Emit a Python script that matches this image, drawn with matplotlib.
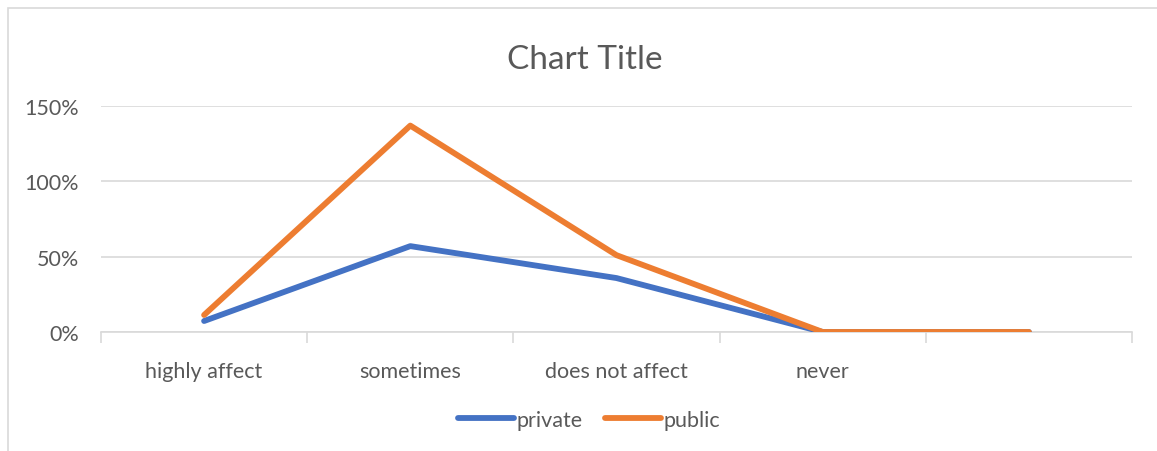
import matplotlib.pyplot as plt
from matplotlib.patches import Rectangle
from matplotlib.ticker import FixedLocator, PercentFormatter

plt.rcParams["font.family"] = ["Lato", "DejaVu Sans"]

categories = ["highly affect", "sometimes", "does not affect", "never", ""]
private = [0.073, 0.57, 0.358, 0.0, 0.0]
public = [0.113, 1.37, 0.51, 0.0, 0.0]

text_color = "#595959"
grid_color = "#d9d9d9"

fig = plt.figure(figsize=(11.57, 4.52), dpi=100)
ax = fig.add_axes([101 / 1157, 119 / 452, 1031 / 1157, 226 / 452])

x = range(len(categories))
ax.plot(x, private, color="#4472C4", lw=4.2, solid_capstyle="round",
        solid_joinstyle="round", label="private", zorder=3)
ax.plot(x, public, color="#ED7D31", lw=4.2, solid_capstyle="round",
        solid_joinstyle="round", label="public", zorder=4)

ax.set_xlim(-0.5, len(categories) - 0.5)
ax.set_ylim(0, 1.5)
ax.set_yticks([0, 0.5, 1.0, 1.5])
ax.yaxis.set_major_formatter(PercentFormatter(1.0, decimals=0))
ax.grid(axis="y", color=grid_color, lw=1.2)
ax.set_axisbelow(True)

ax.set_xticks(list(x))
ax.set_xticklabels(categories)
ax.xaxis.set_minor_locator(FixedLocator([i - 0.5 for i in range(len(categories) + 1)]))
ax.tick_params(axis="x", which="major", length=0, pad=21, labelsize=15.5, labelcolor=text_color)
ax.tick_params(axis="x", which="minor", length=8, color=grid_color, width=1.2)
ax.tick_params(axis="y", length=0, pad=16, labelsize=15.5, labelcolor=text_color)

for side in ["top", "right", "left"]:
    ax.spines[side].set_visible(False)
ax.spines["bottom"].set_color(grid_color)
ax.spines["bottom"].set_linewidth(1.2)

fig.text(585 / 1157, 1 - 60 / 452, "Chart Title", ha="center", va="center",
         fontsize=24, color=text_color)

fig.legend(loc="center", bbox_to_anchor=(589 / 1157, 1 - 421 / 452), ncol=2,
           frameon=False, fontsize=15.5, labelcolor=text_color,
           handlelength=2.6, handletextpad=0.1, columnspacing=1.05)

fig.patches.append(Rectangle((8 / 1157, -0.1), 1150 / 1157, 1.08, transform=fig.transFigure,
                             fill=False, edgecolor=grid_color, lw=1.2))

fig.savefig("out.png", dpi=100)
